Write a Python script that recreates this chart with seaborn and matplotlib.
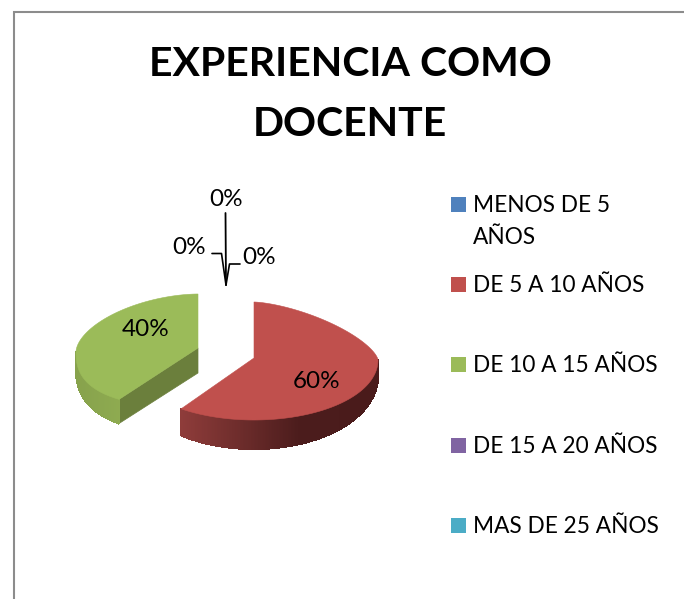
import numpy as np
import matplotlib
matplotlib.use("Agg")
import matplotlib.pyplot as plt
from matplotlib.colors import to_rgb
from matplotlib.patches import Polygon, Rectangle
import seaborn as sns

title_lines = ["EXPERIENCIA COMO", "DOCENTE"]
categories = ["MENOS DE 5\nAÑOS", "DE 5 A 10 AÑOS", "DE 10 A 15 AÑOS", "DE 15 A 20 AÑOS", "MAS DE 25 AÑOS"]
values = [0, 60, 40, 0, 0]
colors = ["#4F81BD", "#C0504D", "#9BBB59", "#8064A2", "#4BACC6"]

sns.set_theme(style="white")
plt.rcParams["font.family"] = ["Lato", "DejaVu Sans"]
palette = sns.color_palette(colors)

fig = plt.figure(figsize=(6.84, 5.99), dpi=100)
ax = fig.add_axes([0, 0, 1, 1])
ax.set_xlim(0, 684)
ax.set_ylim(599, 0)
ax.axis("off")

# chart frame
ax.plot([14, 14, 684], [599, 12, 12], color="#8C8C8C", lw=1.5, solid_joinstyle="miter")

# title
ax.text(350, 64, title_lines[0], ha="center", va="center", fontsize=29.5, fontweight="bold", color="black")
ax.text(350, 124, title_lines[1], ha="center", va="center", fontsize=29.5, fontweight="bold", color="black")

# geometry of each non-empty slice: pie layout (px)
geom = {
    1: dict(c=(254, 358), rx=124, back=56, front=62, nb=1.5, nf=2.0, k=2, d0=16, d1=13,
            side=[(0.0, "#8E3C3A"), (0.6, "#4B1C1C"), (1.0, "#4A1B1B")], cut="#8E3C3A"),
    2: dict(c=(198, 348), rx=122, back=54, front=59.5, nb=1.8, nf=2.44, k=4, d0=16, d1=10,
            side=[(0.0, "#87A24C"), (1.0, "#9BBB59")], cut="#6B7F3C"),
}


def outline(g, theta):
    s, c = np.sin(theta), np.cos(theta)
    n = np.where(c >= 0, g["nb"], g["nf"])
    x = g["c"][0] + g["rx"] * np.sign(s) * np.abs(s) ** (2 / n)
    ry = np.where(c >= 0, g["back"], g["front"])
    y = g["c"][1] - ry * np.sign(c) * np.abs(c) ** (2 / n) + g["k"] * s ** 2
    return x, y


def depth(g, theta):
    return g["d0"] + g["d1"] * np.maximum(0, -np.cos(theta))


def ramp(stops, t):
    xs = [p for p, _ in stops]
    cs = np.array([to_rgb(c) for _, c in stops])
    return tuple(np.interp(t, xs, cs[:, i]) for i in range(3))


total = sum(values)
starts = np.cumsum([0] + values[:-1]) / total * 2 * np.pi
ends = np.cumsum(values) / total * 2 * np.pi

for i in [2, 1]:
    g = geom[i]
    th = np.linspace(starts[i], ends[i], 300)
    x, y = outline(g, th)
    cx, cy = g["c"]
    # cut face towards the viewer (green only; the red one is hidden)
    if i == 2:
        ax.add_patch(Polygon([(cx, cy), (x[0], y[0]), (x[0], y[0] + depth(g, th[0])), (cx, cy + g["d0"] + 9)],
                             closed=True, fc=g["cut"], ec=g["cut"], lw=0.5, zorder=2))
    # outer wall with a horizontal gradient
    xmin, xmax = x.min(), x.max()
    for a in range(len(th) - 1):
        b = a + 1
        if np.cos(th[a]) > 0.02:
            continue
        t = (0.5 * (x[a] + x[b]) - xmin) / (xmax - xmin)
        col = ramp(g["side"], t)
        ax.add_patch(Polygon([(x[a], y[a]), (x[b], y[b]),
                              (x[b], y[b] + depth(g, th[b])), (x[a], y[a] + depth(g, th[a]))],
                             closed=True, fc=col, ec=col, lw=0.8, antialiased=False, zorder=2))
    # top surface
    ax.add_patch(Polygon(np.column_stack([np.r_[cx, x], np.r_[cy, y]]),
                         closed=True, fc=palette[i], ec=palette[i], lw=0.4, zorder=3))
    ax.text(*((317, 382) if i == 1 else (146, 330)), f"{values[i]}%", ha="center", va="center",
            fontsize=17.5, color="black", zorder=5)

# leader lines and zero labels
tip = (226, 285)
ax.plot([225.5, tip[0]], [213, tip[1]], color="black", lw=1.3, zorder=4)
ax.plot([212, 221.5, tip[0]], [253.5, 253.5, tip[1]], color="black", lw=1.2, zorder=4)
ax.plot([240, 229.5, tip[0]], [264, 264, tip[1]], color="black", lw=1.2, zorder=4)
for pos, v in zip([(226, 200), (189, 248), (259, 258)], [values[0], values[3], values[4]]):
    ax.text(*pos, f"{v}%", ha="center", va="center", fontsize=17.5, color="black")

# legend
leg_y = [204, 284, 364, 445, 525]
for i, (name, yy) in enumerate(zip(categories, leg_y)):
    ax.add_patch(Rectangle((451, yy - 7.5), 15, 15, fc=palette[i], ec="none"))
    for j, line in enumerate(name.split("\n")):
        ax.text(473, yy + 1.5 + j * 32, line, ha="left", va="center", fontsize=16.3, color="black")

fig.savefig("out.png", dpi=100, facecolor="white")
